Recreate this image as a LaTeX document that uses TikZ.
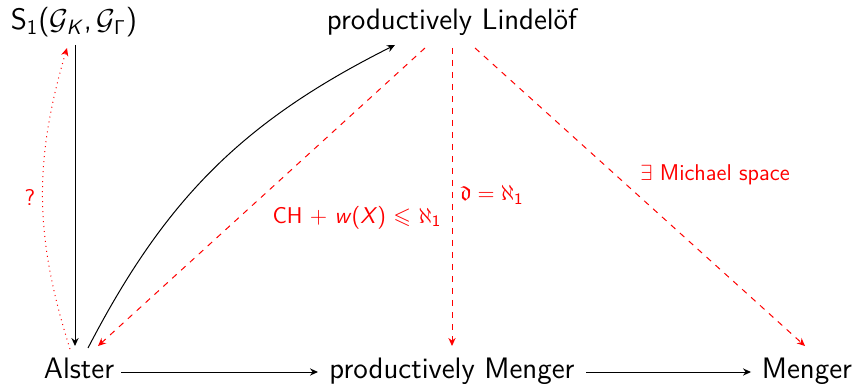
\documentclass[tikz,border=0pt]{standalone}
\usepackage{amsmath}
\usepackage{amssymb}
\renewcommand{\familydefault}{\sfdefault}
\usetikzlibrary{arrows.meta}
\tikzset{
  obj/.style={font=\fontsize{14.8}{18}\selectfont, inner sep=0pt, anchor=base},
  lbl/.style={font=\fontsize{11.4}{14}\selectfont, text=red, inner sep=0pt},
  tip/.style={-{Stealth[length=4pt,width=3.6pt]}},
  imp/.style={draw=black, tip, line width=0.5pt},
  cond/.style={draw=red, dashed, tip, line width=0.5pt},
  quest/.style={draw=red, dotted, tip, line width=0.5pt},
}
\begin{document}
\begin{tikzpicture}[x=0.5pt,y=-0.5pt]
\useasboundingbox (0,0) rectangle (855,384);
\node[obj] (S) at (74,30) {S$_{\text{1}}$($\mathcal{G}_{\text{\textsl{K}}}$,\,$\mathcal{G}_{\mathsf{\Gamma}}$)};
\node[obj] (PL) at (452,30) {productively Lindelöf};
\node[obj] (A) at (79,378) {Alster};
\node[obj] (PM) at (452,378) {productively Menger};
\node[obj] (M) at (807,378) {Menger};
\coordinate (Sb) at (75,45);
\coordinate (Ab) at (75,346);
\draw[imp] (Sb) -- (Ab);
\coordinate (As) at (70,349);
\coordinate (Ss) at (67,48);
\draw[quest] (As) to[bend left=17] (Ss);
\node[lbl] (q) at (30,197) {?};
\coordinate (Ac) at (88,348);
\coordinate (PLc) at (395,45);
\draw[imp] (Ac) to[bend left=18] (PLc);
\coordinate (PLa) at (425,48);
\coordinate (Aa) at (98,346);
\draw[cond] (PLa) -- (Aa);
\node[lbl] (l1) at (357,218) {CH $\mathbin{\text{+}}$ \textsl{w}(\textsl{X}) $\leqslant$ $\aleph_{\text{1}}$};
\coordinate (PLm) at (452,48);
\coordinate (PMm) at (452,346);
\draw[cond] (PLm) -- (PMm);
\node[lbl] (l2) at (492,195) {$\mathfrak{d}=\aleph_{\text{1}}$};
\coordinate (PLr) at (475,48);
\coordinate (Mr) at (805,346);
\draw[cond] (PLr) -- (Mr);
\node[lbl] (l3) at (715,175) {$\exists$ Michael space};
\coordinate (Ae) at (121,372);
\coordinate (PMw) at (318,372);
\coordinate (PMe) at (586,372);
\coordinate (Mw) at (751,372);
\draw[imp] (Ae) -- (PMw);
\draw[imp] (PMe) -- (Mw);
\end{tikzpicture}
\end{document}
